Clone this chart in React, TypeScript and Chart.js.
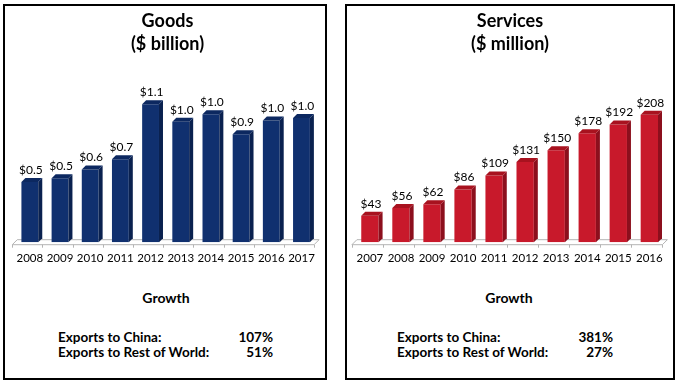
import React, { useEffect, useRef } from "react";
import { Chart, registerables } from "chart.js";

Chart.register(...registerables);

// ---- data ----
const goodsYears = ["2008", "2009", "2010", "2011", "2012", "2013", "2014", "2015", "2016", "2017"];
const goodsValues = [0.48, 0.51, 0.58, 0.66, 1.1, 0.96, 1.02, 0.86, 0.97, 0.99];
const servicesYears = ["2007", "2008", "2009", "2010", "2011", "2012", "2013", "2014", "2015", "2016"];
const servicesValues = [43, 56, 62, 86, 109, 131, 150, 178, 192, 208];
const goodsTitle = ["Goods", "($ billion)"];
const servicesTitle = ["Services", "($ million)"];
const growthHeading = "Growth";
const growthLabels = ["Exports to China:", "Exports to Rest of World:"];
const goodsGrowth = ["107%", "51%"];
const servicesGrowth = ["381%", "27%"];

const FONT = "Lato, 'Open Sans', sans-serif";
const DEPTH = 4;

const bar3dPlugin = {
  id: "bar3d",
  beforeDatasetsDraw(chart: any) {
    const { ctx, chartArea } = chart;
    const xs = chart.scales.x;
    const n = chart.data.labels.length;
    const step = n > 1 ? xs.getPixelForValue(1) - xs.getPixelForValue(0) : 30;
    const base = chartArea.bottom;
    const h = 2.5;
    ctx.save();
    ctx.strokeStyle = "#b4b4b4";
    ctx.lineWidth = 1;
    const l = chartArea.left;
    const r = chartArea.right;
    ctx.beginPath();
    ctx.moveTo(l - h, base + h);
    ctx.lineTo(r - h, base + h);
    ctx.lineTo(r + h, base - h);
    ctx.lineTo(l + h, base - h);
    ctx.closePath();
    ctx.stroke();
    ctx.beginPath();
    for (let i = 0; i <= n; i++) {
      const x = Math.round(xs.getPixelForValue(0) - step / 2 + i * step - h) + 0.5;
      ctx.moveTo(x, base + h);
      ctx.lineTo(x, base + h + 3);
    }
    ctx.stroke();
    ctx.restore();
  },
  afterDatasetsDraw(chart: any, _args: any, opts: any) {
    const { ctx } = chart;
    const meta = chart.getDatasetMeta(0);
    const values = chart.data.datasets[0].data;
    ctx.save();
    meta.data.forEach((bar: any, i: number) => {
      const { x, y, base, width } = bar.getProps(["x", "y", "base", "width"], true);
      const l = x - width / 2;
      const r = x + width / 2;
      // side face
      ctx.fillStyle = opts.side;
      ctx.beginPath();
      ctx.moveTo(r, y);
      ctx.lineTo(r + DEPTH, y - DEPTH);
      ctx.lineTo(r + DEPTH, base - DEPTH);
      ctx.lineTo(r, base);
      ctx.closePath();
      ctx.fill();
      // top face
      ctx.fillStyle = opts.top;
      ctx.beginPath();
      ctx.moveTo(l, y);
      ctx.lineTo(l + DEPTH, y - DEPTH);
      ctx.lineTo(r + DEPTH, y - DEPTH);
      ctx.lineTo(r, y);
      ctx.closePath();
      ctx.fill();
      // value label
      const v = values[i] as number;
      ctx.fillStyle = "#000";
      ctx.font = `12px ${FONT}`;
      ctx.textAlign = "center";
      ctx.textBaseline = "middle";
      ctx.fillText("$" + v.toFixed(opts.decimals), x + 1, y - 12);
    });
    ctx.restore();
  },
};

type ChartBoxProps = {
  labels: string[];
  values: number[];
  title: string[];
  front: string;
  side: string;
  top: string;
  yMax: number;
  decimals: number;
  padLeft: number;
  padRight: number;
  width: number;
  height: number;
};

function BarChart(p: ChartBoxProps) {
  const ref = useRef<HTMLCanvasElement | null>(null);
  useEffect(() => {
    if (!ref.current) return;
    const chart = new Chart(ref.current, {
      type: "bar",
      data: {
        labels: p.labels,
        datasets: [
          {
            data: p.values,
            backgroundColor: p.front,
            borderWidth: 0,
            barPercentage: 0.62,
            categoryPercentage: 0.9,
          },
        ],
      },
      options: {
        responsive: false,
        animation: false,
        layout: { padding: { left: p.padLeft, right: p.padRight, top: 0, bottom: 4 } },
        plugins: {
          legend: { display: false },
          tooltip: { enabled: false },
          title: {
            display: true,
            text: p.title,
            color: "#000",
            font: { family: FONT, size: 18, weight: "bold", lineHeight: 1.27 },
            padding: { top: 4, bottom: 10 },
          },
          bar3d: { side: p.side, top: p.top, decimals: p.decimals },
        } as any,
        scales: {
          x: {
            grid: { display: false, drawTicks: false },
            border: { display: false },
            ticks: {
              color: "#000",
              font: { family: FONT, size: 11.5 },
              padding: 9,
              maxRotation: 0,
              autoSkip: false,
            },
          },
          y: {
            display: false,
            min: 0,
            max: p.yMax,
          },
        },
      },
      plugins: [bar3dPlugin],
    });
    return () => chart.destroy();
  }, []);
  return <canvas ref={ref} width={p.width} height={p.height} style={{ display: "block" }} />;
}

function Growth({ cx, labelX, valueRight, values }: { cx: number; labelX: number; valueRight: number; values: string[] }) {
  return (
    <>
      <div
        style={{
          position: "absolute",
          left: cx - 100,
          width: 200,
          top: 289,
          lineHeight: "18px",
          textAlign: "center",
          fontFamily: FONT,
          fontWeight: "bold",
          fontSize: 14,
        }}
      >
        {growthHeading}
      </div>
      {growthLabels.map((lab, i) => (
        <React.Fragment key={lab}>
          <div
            style={{
              position: "absolute",
              left: labelX,
              top: 329 + i * 15,
              lineHeight: "16px",
              fontFamily: FONT,
              fontWeight: "bold",
              fontSize: 13.5,
              whiteSpace: "nowrap",
            }}
          >
            {lab}
          </div>
          <div
            style={{
              position: "absolute",
              left: valueRight - 60,
              width: 60,
              textAlign: "right",
              top: 329 + i * 15,
              lineHeight: "16px",
              fontFamily: FONT,
              fontWeight: "bold",
              fontSize: 13.5,
            }}
          >
            {values[i]}
          </div>
        </React.Fragment>
      ))}
    </>
  );
}

export default function App() {
  return (
    <div style={{ position: "fixed", left: 0, top: 0, width: 679, height: 384, background: "#fff", overflow: "hidden" }}>
      <div style={{ position: "absolute", left: 3, top: 4, width: 324, height: 376, border: "2px solid #000", boxSizing: "border-box" }} />
      <div style={{ position: "absolute", left: 345, top: 4, width: 330, height: 376, border: "2px solid #000", boxSizing: "border-box" }} />
      <div style={{ position: "absolute", left: 5, top: 6 }}>
        <BarChart
          labels={goodsYears}
          values={goodsValues}
          title={goodsTitle}
          front="#10306f"
          side="#0a214f"
          top="#0c2860"
          yMax={1.406}
          decimals={1}
          padLeft={9.75}
          padRight={3.75}
          width={319}
          height={272}
        />
      </div>
      <div style={{ position: "absolute", left: 347, top: 6 }}>
        <BarChart
          labels={servicesYears}
          values={servicesValues}
          title={servicesTitle}
          front="#c8192b"
          side="#8c0f1d"
          top="#a8121f"
          yMax={288}
          decimals={0}
          padLeft={7.4}
          padRight={6.4}
          width={325}
          height={272}
        />
      </div>
      <Growth cx={166} labelX={58} valueRight={273} values={goodsGrowth} />
      <Growth cx={509} labelX={397} valueRight={613} values={servicesGrowth} />
    </div>
  );
}
